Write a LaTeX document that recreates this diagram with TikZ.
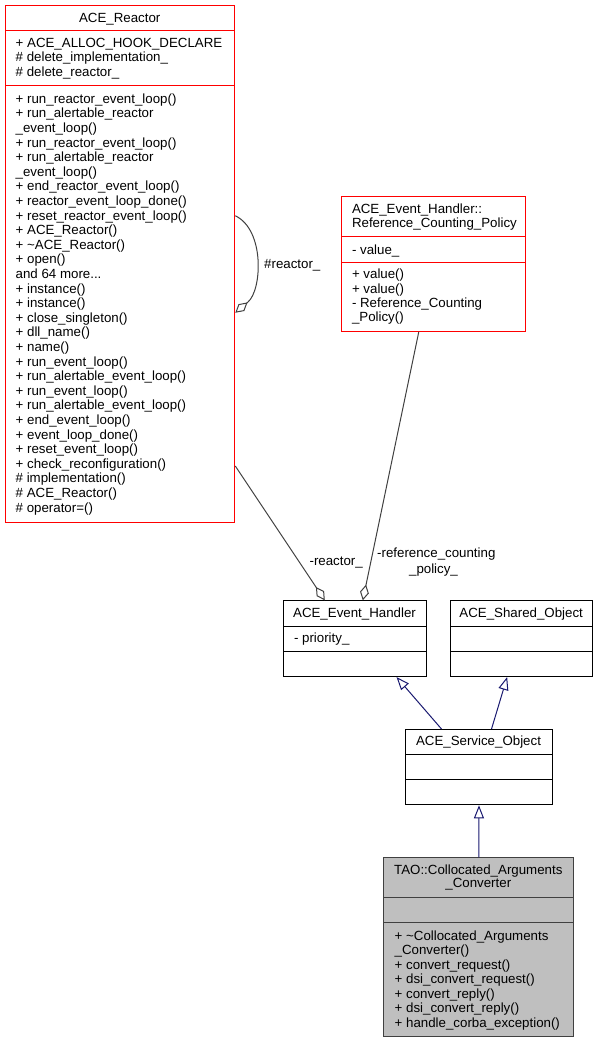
\documentclass[tikz,border=0pt]{standalone}
\usepackage{fontspec}
\setmainfont{Liberation Sans}
\usetikzlibrary{arrows.meta}
\definecolor{navy}{HTML}{191970}
\definecolor{aggrgray}{HTML}{404040}
\definecolor{taogray}{HTML}{BFBFBF}
\begin{document}
\begin{tikzpicture}[x=1pt, y=-1pt,
    txt/.style={inner sep=0pt, anchor=base west, font=\fontsize{13.3}{14.6}\selectfont},
    ttl/.style={txt, anchor=base},
    redbox/.style={draw=red, line width=1pt, anchor=north west, inner sep=0pt},
    blkbox/.style={draw=black, line width=1pt, anchor=north west, inner sep=0pt},
    taobox/.style={draw=aggrgray, fill=taogray, line width=1pt, anchor=north west, inner sep=0pt},
    sep/.style={line width=1pt},
    aggr/.style={draw=aggrgray, line width=1pt, -{Diamond[open, length=16pt, width=9pt]}},
    inh/.style={draw=navy, line width=1pt, -{Triangle[open, length=13pt, width=10pt]}}]
    \useasboundingbox (0,0) rectangle (597,1043);
    \node[redbox, minimum width=229.3, minimum height=516.5] (reactor) at (5,5) {};
    \node[redbox, minimum width=184.3, minimum height=134.7] (policy) at (341,196.3) {};
    \node[blkbox, minimum width=142.4, minimum height=75.7] (handler) at (283.3,600.3) {};
    \node[blkbox, minimum width=142.3, minimum height=75.7] (shared) at (450,600.3) {};
    \node[blkbox, minimum width=146.4, minimum height=75.3] (service) at (405.3,729) {};
    \node[taobox, minimum width=190, minimum height=178.4] (tao) at (383.3,857.3) {};
    \draw[sep, red] (5,31) -- (234.3,31);
    \draw[sep, red] (5,86) -- (234.3,86);
    \draw[sep, red] (341,236.7) -- (525.3,236.7);
    \draw[sep, red] (341,262) -- (525.3,262);
    \draw[sep] (283.3,626.3) -- (425.7,626.3);
    \draw[sep] (283.3,651.3) -- (425.7,651.3);
    \draw[sep] (450,626.3) -- (592.3,626.3);
    \draw[sep] (450,651.3) -- (592.3,651.3);
    \draw[sep] (405.3,754) -- (551.7,754);
    \draw[sep] (405.3,779) -- (551.7,779);
    \draw[sep, aggrgray] (383.3,897.7) -- (573.3,897.7);
    \draw[sep, aggrgray] (383.3,922.7) -- (573.3,922.7);
    \node[ttl] at (119.7,22.5) {ACE\_Reactor};
    \node[txt] at (15.5,47.3) {+ ACE\_ALLOC\_HOOK\_DECLARE};
    \node[txt] at (15.5,61.9) {\# delete\_implementation\_};
    \node[txt] at (15.5,76.5) {\# delete\_reactor\_};
    \node[txt] at (15.5,103.3) {+ run\_reactor\_event\_loop()};
    \node[txt] at (15.5,117.9) {+ run\_alertable\_reactor};
    \node[txt] at (15.5,132.5) {\_event\_loop()};
    \node[txt] at (15.5,147.1) {+ run\_reactor\_event\_loop()};
    \node[txt] at (15.5,161.7) {+ run\_alertable\_reactor};
    \node[txt] at (15.5,176.3) {\_event\_loop()};
    \node[txt] at (15.5,190.9) {+ end\_reactor\_event\_loop()};
    \node[txt] at (15.5,205.5) {+ reactor\_event\_loop\_done()};
    \node[txt] at (15.5,220.1) {+ reset\_reactor\_event\_loop()};
    \node[txt] at (15.5,234.7) {+ ACE\_Reactor()};
    \node[txt] at (15.5,249.3) {+ \textasciitilde ACE\_Reactor()};
    \node[txt] at (15.5,263.9) {+ open()};
    \node[txt] at (15.5,278.5) {and 64 more...};
    \node[txt] at (15.5,293.1) {+ instance()};
    \node[txt] at (15.5,307.7) {+ instance()};
    \node[txt] at (15.5,322.3) {+ close\_singleton()};
    \node[txt] at (15.5,336.9) {+ dll\_name()};
    \node[txt] at (15.5,351.5) {+ name()};
    \node[txt] at (15.5,366.1) {+ run\_event\_loop()};
    \node[txt] at (15.5,380.7) {+ run\_alertable\_event\_loop()};
    \node[txt] at (15.5,395.3) {+ run\_event\_loop()};
    \node[txt] at (15.5,409.9) {+ run\_alertable\_event\_loop()};
    \node[txt] at (15.5,424.5) {+ end\_event\_loop()};
    \node[txt] at (15.5,439.1) {+ event\_loop\_done()};
    \node[txt] at (15.5,453.7) {+ reset\_event\_loop()};
    \node[txt] at (15.5,468.3) {+ check\_reconfiguration()};
    \node[txt] at (15.5,482.9) {\# implementation()};
    \node[txt] at (15.5,497.5) {\# ACE\_Reactor()};
    \node[txt] at (15.5,512.1) {\# operator=()};
    \node[txt] at (351.8,213.5) {ACE\_Event\_Handler::};
    \node[txt] at (351.8,227) {Reference\_Counting\_Policy};
    \node[txt] at (351.8,254) {- value\_};
    \node[txt] at (351.8,278.7) {+ value()};
    \node[txt] at (351.8,293.1) {+ value()};
    \node[txt] at (351.8,307.5) {- Reference\_Counting};
    \node[txt] at (351.8,321.9) {\_Policy()};
    \node[ttl] at (354.5,617.3) {ACE\_Event\_Handler};
    \node[txt] at (293.8,642.7) {- priority\_};
    \node[ttl] at (521.2,617.3) {ACE\_Shared\_Object};
    \node[ttl] at (478.5,745) {ACE\_Service\_Object};
    \node[ttl] at (478.3,874) {TAO::Collocated\_Arguments};
    \node[ttl] at (478.3,887.5) {\_Converter};
    \node[txt] at (394.5,940) {+ \textasciitilde Collocated\_Arguments};
    \node[txt] at (394.5,954.5) {\_Converter()};
    \node[txt] at (394.5,969) {+ convert\_request()};
    \node[txt] at (394.5,983.5) {+ dsi\_convert\_request()};
    \node[txt] at (394.5,998) {+ convert\_reply()};
    \node[txt] at (394.5,1012.5) {+ dsi\_convert\_reply()};
    \node[txt] at (394.5,1027) {+ handle\_corba\_exception()};
    \draw[aggr] ([yshift=48pt]reactor.east) .. controls (265,230) and (262,290) .. (248,302) -- ([yshift=-49pt]reactor.east);
    \node[txt] at (264,268) {\#reactor\_};
    \draw[aggr] ([yshift=56.5pt]reactor.south east) -- ([xshift=-30.2pt]handler.north);
    \node[txt, anchor=base east] at (363,565.7) {-reactor\_};
    \draw[aggr] ([xshift=-14.9pt]policy.south) -- ([xshift=7.8pt]handler.north);
    \node[ttl] at (436.3,557.7) {-reference\_counting};
    \node[ttl] at (433.5,573.3) {\_policy\_};
    \draw[inh] ([xshift=-37.5pt]service.north) -- ([xshift=41.5pt]handler.south);
    \draw[inh] ([xshift=12.5pt]service.north) -- ([xshift=-14.5pt]shared.south);
    \draw[inh] (tao.north) -- (service.south);
\end{tikzpicture}
\end{document}
